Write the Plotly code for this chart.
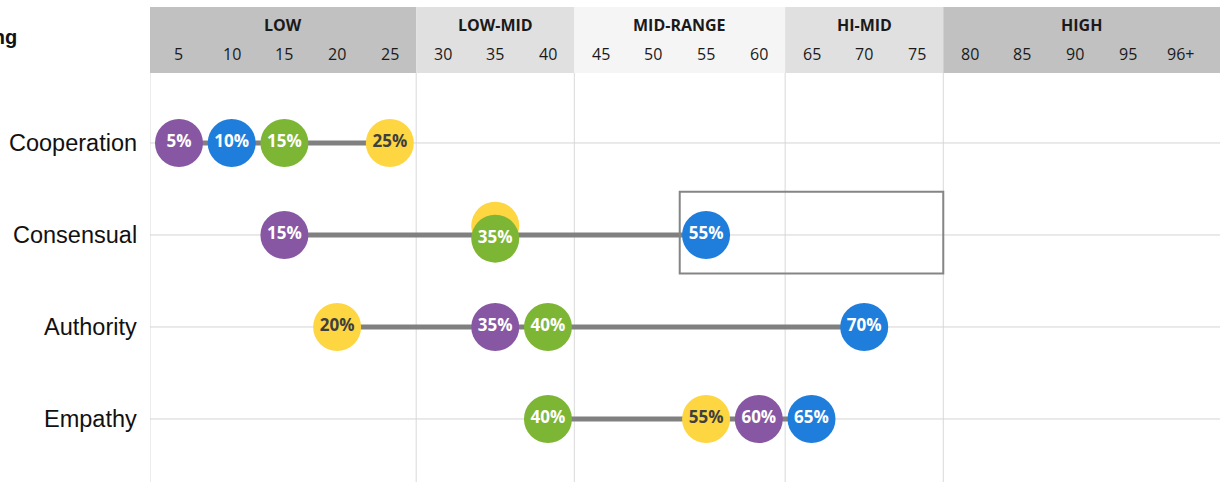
import plotly.graph_objects as go

# Competency rows (top to bottom)
categories = ["Cooperation", "Consensual", "Authority", "Empathy"]

# Score series, one value per row
purple_scores = [5, 15, 35, 60]
blue_scores = [10, 55, 70, 65]
green_scores = [15, 35, 40, 40]
yellow_scores = [25, 35, 20, 55]

# Score bands across the top
band_names = ["LOW", "LOW-MID", "MID-RANGE", "HI-MID", "HIGH"]
band_edges = [2.25, 27.5, 42.5, 62.5, 77.5, 103.75]
band_fills = ["#c1c1c1", "#e0e0e0", "#f5f5f5", "#e0e0e0", "#c1c1c1"]

tick_values = [5, 10, 15, 20, 25, 30, 35, 40, 45, 50, 55, 60, 65, 70, 75, 80, 85, 90, 95, 100]
tick_labels = ["5", "10", "15", "20", "25", "30", "35", "40", "45", "50",
               "55", "60", "65", "70", "75", "80", "85", "90", "95", "96+"]

# Highlighted target zone
target_range = [52.5, 77.5]
target_row = "Consensual"

rows = list(range(len(categories)))
Y_TOP, Y_BOTTOM = -1.478, 3.685
HEADER_BOTTOM = -0.761

fig = go.Figure()

# Connector lines: span from lowest to highest score in each row
all_series = [purple_scores, blue_scores, green_scores, yellow_scores]
lx, ly = [], []
for i in rows:
    vals = [s[i] for s in all_series]
    lx += [min(vals), max(vals), None]
    ly += [i, i, None]
fig.add_trace(go.Scatter(x=lx, y=ly, mode="lines",
                         line=dict(color="#808080", width=5),
                         hoverinfo="skip", showlegend=False))

# (name, values, fill, label colour, vertical nudge per row, rows whose label is covered)
series_styles = [
    ("Yellow", yellow_scores, "#fdd641", "#3f3f3f", {1: -0.1}, {1}),
    ("Purple", purple_scores, "#8757a3", "white", {}, set()),
    ("Green", green_scores, "#7db534", "white", {1: 0.04}, set()),
    ("Blue", blue_scores, "#1f7ddb", "white", {}, set()),
]
for name, vals, fill, txt, nudge, covered in series_styles:
    ys = [i + nudge.get(i, 0) for i in rows]
    labels = ["" if i in covered else f"{v}%" for i, v in zip(rows, vals)]
    fig.add_trace(go.Scatter(
        x=vals, y=ys, mode="markers+text", name=name,
        marker=dict(size=48, color=fill, line=dict(width=0)),
        text=labels, textposition="middle center",
        textfont=dict(family="Open Sans", size=17, color=txt, weight="bold"),
        showlegend=False, hoverinfo="skip"))

shapes = []
# Header band fills
for i, name in enumerate(band_names):
    shapes.append(dict(type="rect", xref="x", yref="y",
                       x0=band_edges[i], x1=band_edges[i + 1],
                       y0=Y_TOP, y1=HEADER_BOTTOM,
                       fillcolor=band_fills[i], line=dict(width=0), layer="below"))
# Vertical band dividers in the plotting area
for e in band_edges[:-1]:
    shapes.append(dict(type="line", xref="x", yref="y", x0=e, x1=e,
                       y0=HEADER_BOTTOM, y1=Y_BOTTOM,
                       line=dict(color="#d9d9d9", width=1), layer="below"))
# Horizontal row gridlines
for i in rows:
    shapes.append(dict(type="line", xref="x", yref="y", x0=band_edges[0], x1=band_edges[-1],
                       y0=i, y1=i, line=dict(color="#d4d4d4", width=1), layer="below"))
# Target zone outline
tr = categories.index(target_row)
shapes.append(dict(type="rect", xref="x", yref="y",
                   x0=target_range[0], x1=target_range[1],
                   y0=tr - 0.47, y1=tr + 0.42,
                   line=dict(color="#858585", width=2), fillcolor="rgba(0,0,0,0)"))

annotations = []
for i, name in enumerate(band_names):
    annotations.append(dict(x=(band_edges[i] + band_edges[i + 1]) / 2, y=-1.283,
                            xref="x", yref="y", text=f"<b>{name}</b>", showarrow=False,
                            font=dict(family="Open Sans", size=16, color="#1a1a1a")))
for v, t in zip(tick_values, tick_labels):
    annotations.append(dict(x=v, y=-0.967, xref="x", yref="y", text=t, showarrow=False,
                            font=dict(family="Open Sans", size=16, color="#1a1a1a")))
for i, c in enumerate(categories):
    annotations.append(dict(x=0, y=i, xref="paper", yref="y", text=c, showarrow=False,
                            xanchor="right", xshift=-11,
                            font=dict(family="Liberation Sans, Arial", size=23.5, color="#111111")))
annotations.append(dict(x=0, y=-1.152, xref="paper", yref="y", text="<b>Rating</b>",
                        showarrow=False, xanchor="right", xshift=-131,
                        font=dict(family="Liberation Sans, Arial", size=20, color="#111111")))

fig.update_layout(
    width=1223, height=482,
    margin=dict(l=150, r=3, t=7, b=0),
    paper_bgcolor="white", plot_bgcolor="white",
    xaxis=dict(range=[band_edges[0], band_edges[-1]], visible=False, fixedrange=True),
    yaxis=dict(range=[Y_BOTTOM, Y_TOP], visible=False, fixedrange=True),
    shapes=shapes, annotations=annotations,
)

fig.write_html("out.html")
